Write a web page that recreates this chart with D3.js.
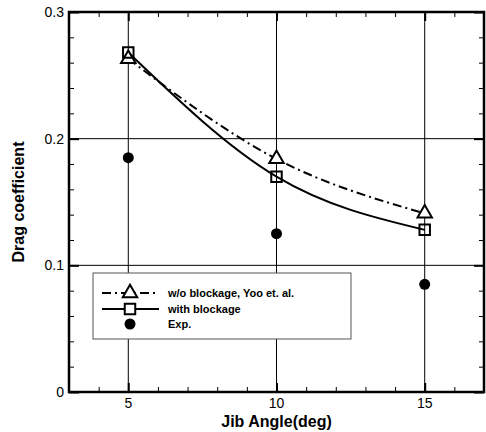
<!DOCTYPE html>
<html>
<head>
<meta charset="utf-8">
<script src="https://cdn.jsdelivr.net/npm/d3@7"></script>
<style>
  body { margin: 0; background: #fff; }
  svg { display: block; font-family: "Liberation Sans", Arial, sans-serif; }
</style>
</head>
<body>
<svg id="chart"></svg>
<script>
// data
var angles = [5, 10, 15];
var woBlockage = [0.263, 0.184, 0.141];   // w/o blockage, Yoo et. al.
var withBlockage = [0.268, 0.170, 0.128]; // with blockage
var expData = [0.185, 0.125, 0.085];      // Exp.
var xTicks = [5, 10, 15];
var yTicks = [0, 0.1, 0.2, 0.3];
var legendLabels = ["w/o blockage, Yoo et. al.", "with blockage", "Exp."];

var width = 486, height = 432;
// plot box (note: "top" is reserved on window, so use pl/pr/pt/pb)
var pl = 69, pr = 484, pt = 12, pb = 392;

var svg = d3.select('#chart').attr('width', width).attr('height', height);

var x = d3.scaleLinear().domain([3, 17]).range([pl, pr]);
var y = d3.scaleLinear().domain([0, 0.3]).range([pb, pt]);

// grid lines
var grid = svg.append('g').attr('stroke', '#000').attr('stroke-width', 1);
grid.selectAll('line.vg')
  .data(xTicks)
  .enter().append('line')
  .attr('x1', d => x(d)).attr('x2', d => x(d))
  .attr('y1', pt).attr('y2', pb);
grid.selectAll('line.hg')
  .data([0.1, 0.2])
  .enter().append('line')
  .attr('y1', d => y(d)).attr('y2', d => y(d))
  .attr('x1', pl).attr('x2', pr);

// axes with inward ticks
var minorX = d3.range(4, 17, 1).filter(d => xTicks.indexOf(d) < 0);
var minorY = d3.range(0.02, 0.3, 0.02).filter(d => Math.abs(d * 10 - Math.round(d * 10)) > 1e-6);

function tickAxis(axis, scale, major, minor, majLen, minLen) {
  var g = svg.append('g');
  g.call(axis(scale).tickValues(minor).tickSize(-minLen).tickFormat(''));
  g.selectAll('.domain').remove();
  g.selectAll('.tick line').attr('stroke-width', 1);
  var g2 = svg.append('g');
  g2.call(axis(scale).tickValues(major).tickSize(-majLen).tickFormat(''));
  g2.selectAll('.domain').remove();
  g2.selectAll('.tick line').attr('stroke-width', 2);
  return [g, g2];
}
tickAxis(d3.axisBottom, x, xTicks, minorX, 9, 5).forEach(g => g.attr('transform', `translate(0,${pb})`));
tickAxis(d3.axisTop, x, xTicks, minorX, 9, 5).forEach(g => g.attr('transform', `translate(0,${pt})`));
tickAxis(d3.axisLeft, y, yTicks, minorY, 10, 5).forEach(g => g.attr('transform', `translate(${pl},0)`));
tickAxis(d3.axisRight, y, yTicks, minorY, 10, 5).forEach(g => g.attr('transform', `translate(${pr},0)`));

// frame
svg.append('rect')
  .attr('x', pl).attr('y', pt)
  .attr('width', pr - pl).attr('height', pb - pt)
  .attr('fill', 'none').attr('stroke', '#000').attr('stroke-width', 2.5);

// tick labels
svg.append('g').selectAll('text')
  .data(xTicks)
  .enter().append('text')
  .attr('x', d => x(d)).attr('y', pb + 16)
  .attr('text-anchor', 'middle')
  .attr('font-size', 14)
  .text(d => d);
svg.append('g').selectAll('text')
  .data(yTicks)
  .enter().append('text')
  .attr('x', pl - 5).attr('y', d => y(d) + 5)
  .attr('text-anchor', 'end')
  .attr('font-size', 14)
  .text(d => d3.format('')(d));

// axis titles
svg.append('text')
  .attr('x', x(10)).attr('y', 427)
  .attr('text-anchor', 'middle')
  .attr('font-size', 16).attr('font-weight', 'bold')
  .text('Jib Angle(deg)');
svg.append('text')
  .attr('transform', `translate(24,${(pt + pb) / 2}) rotate(-90)`)
  .attr('text-anchor', 'middle')
  .attr('font-size', 16).attr('font-weight', 'bold')
  .text('Drag coefficient');

// curves
var line = d3.line()
  .x((d, i) => x(angles[i]))
  .y(d => y(d))
  .curve(d3.curveNatural);

svg.append('path')
  .datum(woBlockage)
  .attr('d', line)
  .attr('fill', 'none').attr('stroke', '#000').attr('stroke-width', 2)
  .attr('stroke-dasharray', '9,4,2,4');
svg.append('path')
  .datum(withBlockage)
  .attr('d', line)
  .attr('fill', 'none').attr('stroke', '#000').attr('stroke-width', 2);

var tri = d3.symbol().type(d3.symbolTriangle).size(90);
var sq = d3.symbol().type(d3.symbolSquare).size(110);

svg.append('g').selectAll('path')
  .data(woBlockage)
  .enter().append('path')
  .attr('d', tri)
  .attr('transform', (d, i) => `translate(${x(angles[i])},${y(d)})`)
  .attr('fill', '#fff').attr('stroke', '#000').attr('stroke-width', 2);
svg.append('g').selectAll('path')
  .data(withBlockage)
  .enter().append('path')
  .attr('d', sq)
  .attr('transform', (d, i) => `translate(${x(angles[i])},${y(d)})`)
  .attr('fill', 'none').attr('stroke', '#000').attr('stroke-width', 2);
svg.append('g').selectAll('circle')
  .data(expData)
  .enter().append('circle')
  .attr('cx', (d, i) => x(angles[i]))
  .attr('cy', d => y(d))
  .attr('r', 5.5)
  .attr('fill', '#000');

// legend
var lg = svg.append('g').attr('transform', 'translate(93,273)');
lg.append('rect')
  .attr('width', 258).attr('height', 66)
  .attr('fill', '#fff').attr('stroke', '#555').attr('stroke-width', 1);
var rows = [20, 36, 51];
lg.append('line').attr('x1', 9).attr('x2', 66).attr('y1', rows[0]).attr('y2', rows[0])
  .attr('stroke', '#000').attr('stroke-width', 2).attr('stroke-dasharray', '9,4,2,4');
lg.append('path').attr('d', tri).attr('transform', `translate(37,${rows[0]})`)
  .attr('fill', '#fff').attr('stroke', '#000').attr('stroke-width', 2);
lg.append('line').attr('x1', 9).attr('x2', 66).attr('y1', rows[1]).attr('y2', rows[1])
  .attr('stroke', '#000').attr('stroke-width', 2);
lg.append('path').attr('d', sq).attr('transform', `translate(37,${rows[1]})`)
  .attr('fill', '#fff').attr('stroke', '#000').attr('stroke-width', 2);
lg.append('circle').attr('cx', 37).attr('cy', rows[2]).attr('r', 5.5).attr('fill', '#000');
lg.selectAll('text.lab')
  .data(legendLabels)
  .enter().append('text')
  .attr('x', 75).attr('y', (d, i) => rows[i] + 4)
  .attr('font-size', 11).attr('font-weight', 'bold')
  .text(d => d);
</script>
</body>
</html>
